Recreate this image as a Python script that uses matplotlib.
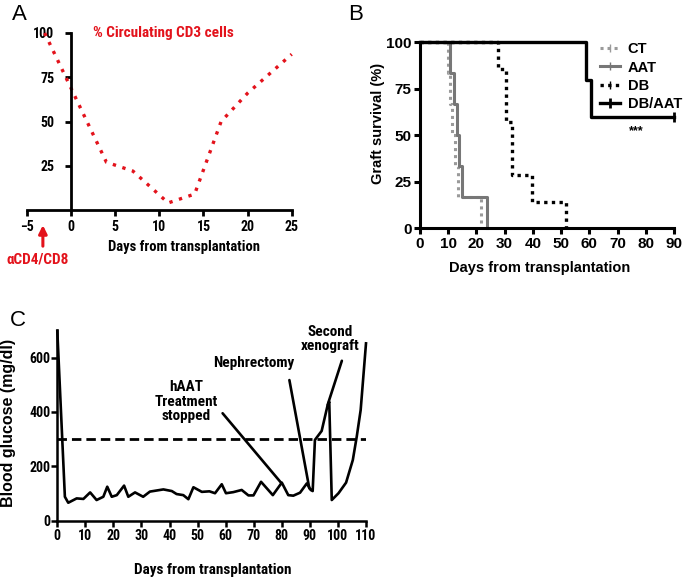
import matplotlib
matplotlib.use('Agg')
import matplotlib.pyplot as plt

NARROW = ['Roboto Condensed', 'Liberation Sans', 'DejaVu Sans']
REG = ['Liberation Sans', 'DejaVu Sans']
plt.rcParams['font.family'] = REG
plt.rcParams['font.weight'] = 'bold'

# panel A: % circulating CD3 cells
a_days = [-3, 4, 7, 11, 14, 17, 20, 25]
a_cd3 = [100, 27, 22, 4, 9, 50, 66, 88]
a_xticks = [-5, 0, 5, 10, 15, 20, 25]
a_yticks = [25, 50, 75, 100]

# panel B: graft survival (step curves)
ct_t = [0, 10, 10.5, 11.2, 12.4, 13.5, 21.7]
ct_s = [100, 83.3, 66.7, 50, 33.3, 16.7, 0]
aat_t = [0, 10.6, 12.2, 13, 13.9, 14.8, 23.6]
aat_s = [100, 83.3, 66.7, 50, 33.3, 16.7, 0]
db_t = [0, 27.8, 30.5, 32.5, 39.6, 51.7]
db_s = [100, 85.7, 57.1, 28.6, 14.3, 0]
dbaat_t = [0, 58.7, 60.5, 90]
dbaat_s = [100, 80, 60, 60]
b_xticks = list(range(0, 100, 10))
b_yticks = [0, 25, 50, 75, 100]

# panel C: blood glucose
c_days = [0, 2.7, 3.9, 6.9, 9.3, 11.7, 14, 16.4, 17.8, 19.4, 21.2, 23.8, 25.3,
          27.7, 30.6, 33, 34.8, 37.8, 40.8, 42.5, 44.9, 46.7, 48.5, 51.5, 54.2,
          56.2, 58.6, 60.1, 62.7, 65.7, 68.1, 69.9, 72.6, 76.8, 80, 82.3, 84.1,
          86.5, 88.9, 90.3, 91, 91.8, 94.2, 96.2, 96.9, 97.8, 100.2, 102.9,
          105.3, 106.7, 108.1, 110]
c_glucose = [698, 88, 66, 82, 80, 104, 76, 88, 125, 88, 94, 129, 88, 104, 88,
             107, 110, 115, 109, 98, 94, 79, 123, 106, 108, 101, 134, 101, 105,
             113, 93, 93, 143, 94, 140, 94, 92, 103, 137, 113, 109, 297, 330,
             419, 438, 76, 101, 140, 223, 309, 407, 652]
c_threshold = 300
c_xticks = list(range(0, 120, 10))
c_yticks = [0, 200, 400, 600]
# annotation labels: (text, text pos, line start, line end)
c_notes = [
    ('hAAT\nTreatment\nstopped', (45.9, 437), (58.9, 395), (79.7, 140)),
    ('Nephrectomy', (70, 579), (82.7, 517), (89.8, 119)),
    ('Second\nxenograft', (97.2, 668), (101.4, 588), (96.3, 425)),
]

W, H = 688, 583
fig = plt.figure(figsize=(W / 100, H / 100), dpi=100)


def px_axes(x0, y0, x1, y1):
    # pixel box (left, top, right, bottom) -> figure fraction
    return fig.add_axes([x0 / W, 1 - y1 / H, (x1 - x0) / W, (y1 - y0) / H])


def style(ax, lw, size, fam):
    for s in ['top', 'right']:
        ax.spines[s].set_visible(False)
    for s in ['left', 'bottom']:
        ax.spines[s].set_linewidth(lw)
    ax.tick_params(width=lw, length=4, labelsize=size, pad=2)
    for lab in ax.get_xticklabels() + ax.get_yticklabels():
        lab.set_family(fam)
        lab.set_weight('bold')


# ---- A
axA = px_axes(27, 33, 291.7, 210)
axA.plot(a_days, a_cd3, color='#e3121b', lw=2.4, ls=(0, (1, 2.0)), clip_on=False)
axA.set_xlim(-5, 25)
axA.set_ylim(0, 100)
axA.spines['left'].set_position(('data', 0))
axA.set_xticks(a_xticks)
axA.set_yticks(a_yticks)
style(axA, 2, 10, NARROW)
axA.tick_params(axis='y', pad=8)
axA.tick_params(axis='x', pad=3)
axA.text(10.5, 100, '% Circulating CD3 cells', color='#e3121b', fontsize=11,
         family=NARROW, ha='center', va='center')
axA.text(0.593, -0.21, 'Days from transplantation', transform=axA.transAxes,
         fontsize=10.5, family=NARROW, ha='center', va='center')
tr = axA.get_xaxis_transform()
axA.annotate('', xy=(-3.2, -0.07), xytext=(-3.2, -0.22), xycoords=tr, textcoords=tr,
             arrowprops=dict(arrowstyle='-|>', color='#e3121b', lw=2.2,
                             mutation_scale=12))
axA.text(-3.8, -0.28, '\u03b1CD4/CD8', transform=tr, color='#e3121b',
         fontsize=11, family=NARROW, ha='center', va='center')
fig.text(19 / W, 1 - 14 / H, 'A', fontsize=16, weight='normal', ha='center', va='center')

# ---- B
axB = px_axes(420, 42.3, 674, 228.3)
axB.step(ct_t, ct_s, where='post', color='#9a9a9a', lw=2.2, ls=(0, (1, 1.3)),
         clip_on=False, label='CT', marker='|', markevery=[], markersize=6)
axB.step(aat_t, aat_s, where='post', color='#777777', lw=2.2, clip_on=False,
         label='AAT', marker='|', markevery=[], markersize=6)
axB.step(db_t, db_s, where='post', color='black', lw=2.4, ls=(0, (1, 1.3)),
         clip_on=False, label='DB', marker='|', markevery=[], markersize=6)
axB.step(dbaat_t, dbaat_s, where='post', color='black', lw=2.4, clip_on=False,
         label='DB/AAT', marker='|', markevery=[-1], markersize=7, mew=2)
axB.set_xlim(0, 90)
axB.set_ylim(0, 100)
axB.set_xticks(b_xticks)
axB.set_yticks(b_yticks)
style(axB, 2.2, 11, REG)
leg = axB.legend(loc='upper left', bbox_to_anchor=(0.68, 1.04), frameon=False,
                 fontsize=10.5, handlelength=1.4, handletextpad=0.5,
                 labelspacing=0.3, borderpad=0, numpoints=1)
for h in leg.legend_handles:
    h.set_markevery([1])
axB.text(76.5, 52, '***', fontsize=9, ha='center', va='center')
axB.text(0.472, -0.215, 'Days from transplantation', transform=axB.transAxes,
         fontsize=10.5, ha='center', va='center')
axB.text(-0.165, 0.566, 'Graft survival (%)', transform=axB.transAxes,
         fontsize=10.5, ha='center', va='center', rotation=90)
fig.text(356 / W, 1 - 14 / H, 'B', fontsize=16, weight='normal', ha='center', va='center')

# ---- C
axC = px_axes(57.3, 330.3, 366, 520.7)
axC.plot(c_days, c_glucose, color='black', lw=1.9, clip_on=False)
axC.axhline(c_threshold, xmin=0, xmax=1, color='black', lw=2, ls=(0, (3.4, 1.8)))
for txt, tpos, p0, p1 in c_notes:
    axC.annotate('', xy=p1, xytext=p0,
                 arrowprops=dict(arrowstyle='-', color='black', lw=1.9,
                                 shrinkA=0, shrinkB=0))
    axC.text(tpos[0], tpos[1], txt, fontsize=11, family=NARROW, ha='center',
             va='center', linespacing=1.05)
axC.set_xlim(0, 110)
axC.set_ylim(0, 700)
axC.set_xticks(c_xticks)
axC.set_yticks(c_yticks)
style(axC, 1.8, 10, NARROW)
axC.tick_params(axis='y', pad=1)
axC.text(0.503, -0.259, 'Days from transplantation', transform=axC.transAxes,
         fontsize=11, family=NARROW, ha='center', va='center')
axC.text(-0.159, 0.513, 'Blood glucose (mg/dl)', transform=axC.transAxes,
         fontsize=11.5, ha='center', va='center', rotation=90)
fig.text(18 / W, 1 - 320 / H, 'C', fontsize=16, weight='normal', ha='center', va='center')

fig.savefig('out.png', dpi=100)
